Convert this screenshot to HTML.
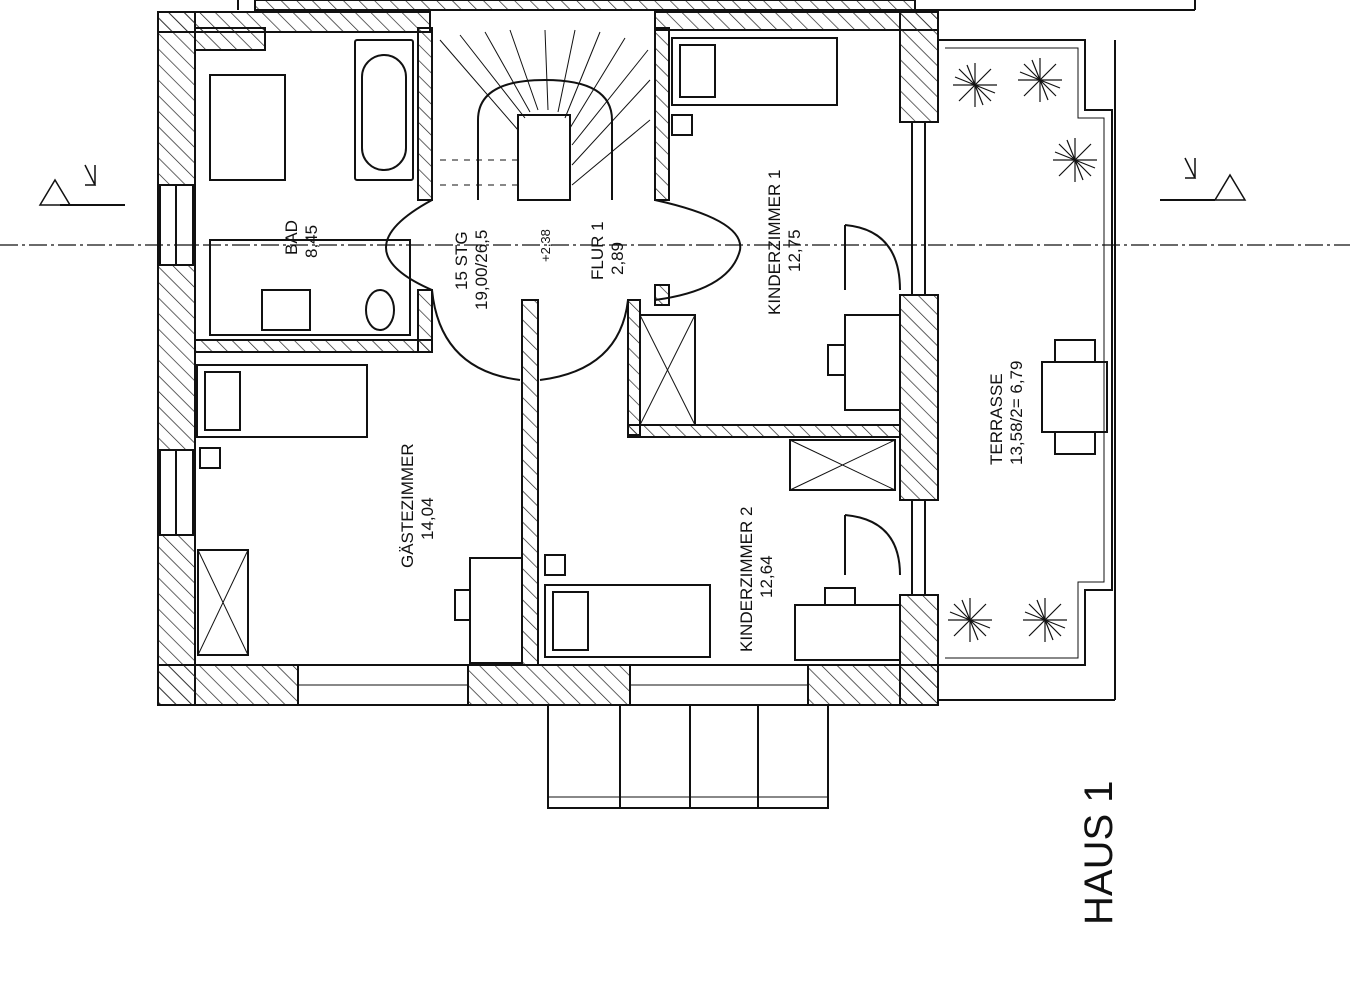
<!DOCTYPE html>
<html><head><meta charset="utf-8"><style>
html,body{margin:0;padding:0;background:#fff;}
svg{display:block;}
text{font-family:"Liberation Sans Narrow","Liberation Sans",sans-serif;fill:#111;}
</style></head><body>
<svg width="1350" height="990" viewBox="0 0 1350 990" xmlns="http://www.w3.org/2000/svg">
<defs>
<pattern id="h" width="11" height="11" patternUnits="userSpaceOnUse" patternTransform="rotate(-45)">
<line x1="0" y1="0" x2="0" y2="11" stroke="#222" stroke-width="1.4"/>
</pattern>
</defs>
<rect width="1350" height="990" fill="#fff"/>
<g stroke="#111" stroke-width="2" fill="none">
<line x1="238" y1="0" x2="238" y2="10"/>
<rect x="255" y="0" width="660" height="10" fill="url(#h)"/>
<line x1="915" y1="10" x2="1195" y2="10"/>
<line x1="1195" y1="0" x2="1195" y2="10"/>
<rect x="158" y="12" width="37" height="693" fill="url(#h)"/>
<rect x="158" y="12" width="272" height="20" fill="url(#h)"/>
<rect x="195" y="28" width="70" height="22" fill="url(#h)"/>
<rect x="655" y="12" width="283" height="18" fill="url(#h)"/>
<rect x="900" y="12" width="38" height="110" fill="url(#h)"/>
<rect x="900" y="295" width="38" height="205" fill="url(#h)"/>
<rect x="900" y="595" width="38" height="110" fill="url(#h)"/>
<rect x="158" y="665" width="140" height="40" fill="url(#h)"/>
<rect x="468" y="665" width="162" height="40" fill="url(#h)"/>
<rect x="808" y="665" width="130" height="40" fill="url(#h)"/>
<line x1="298" y1="665" x2="468" y2="665"/><line x1="298" y1="705" x2="468" y2="705"/>
<line x1="630" y1="665" x2="808" y2="665"/><line x1="630" y1="705" x2="808" y2="705"/>
<line x1="298" y1="685" x2="468" y2="685" stroke-width="1"/>
<line x1="630" y1="685" x2="808" y2="685" stroke-width="1"/>
<rect x="160" y="185" width="33" height="80" fill="#fff"/>
<line x1="176" y1="185" x2="176" y2="265"/>
<rect x="160" y="450" width="33" height="85" fill="#fff"/>
<line x1="176" y1="450" x2="176" y2="535"/>
<line x1="912" y1="122" x2="912" y2="295"/><line x1="925" y1="122" x2="925" y2="295"/>
<line x1="912" y1="500" x2="912" y2="595"/><line x1="925" y1="500" x2="925" y2="595"/>
<rect x="418" y="28" width="14" height="172" fill="url(#h)"/>
<rect x="655" y="28" width="14" height="172" fill="url(#h)"/>
<rect x="195" y="340" width="237" height="12" fill="url(#h)"/>
<rect x="418" y="290" width="14" height="62" fill="url(#h)"/>
<rect x="522" y="300" width="16" height="365" fill="url(#h)"/>
<rect x="628" y="300" width="12" height="135" fill="url(#h)"/>
<rect x="628" y="425" width="272" height="12" fill="url(#h)"/>
<rect x="655" y="285" width="14" height="20" fill="url(#h)"/>
<rect x="210" y="75" width="75" height="105"/>
<rect x="355" y="40" width="58" height="140" rx="2"/>
<rect x="362" y="55" width="44" height="115" rx="22"/>
<rect x="210" y="240" width="200" height="95"/>
<rect x="262" y="290" width="48" height="40"/>
<ellipse cx="380" cy="310" rx="14" ry="20"/>
<path d="M478 200 L478 120 Q478 80 545 80 Q612 80 612 120 L612 200"/>
<rect x="518" y="115" width="52" height="85"/>
<g stroke-width="1">
<line x1="440" y1="40" x2="518" y2="130"/><line x1="460" y1="35" x2="525" y2="118"/>
<line x1="485" y1="32" x2="530" y2="112"/><line x1="510" y1="30" x2="538" y2="110"/>
<line x1="545" y1="30" x2="548" y2="110"/><line x1="575" y1="30" x2="558" y2="112"/>
<line x1="600" y1="32" x2="565" y2="118"/><line x1="625" y1="38" x2="570" y2="128"/>
<line x1="648" y1="50" x2="572" y2="145"/><line x1="650" y1="80" x2="572" y2="165"/>
<line x1="650" y1="120" x2="572" y2="185"/>
<line x1="440" y1="160" x2="518" y2="160" stroke-dasharray="6 6"/>
<line x1="440" y1="185" x2="518" y2="185" stroke-dasharray="6 6"/>
</g>
<path d="M432 200 Q340 250 432 290"/><path d="M655 200 Q745 220 740 250 Q730 290 655 300"/>
<path d="M432 290 Q440 370 520 380"/><path d="M540 380 Q620 370 628 300"/>
<path d="M845 225 Q900 230 900 290"/><line x1="845" y1="225" x2="845" y2="290"/>
<path d="M845 515 Q900 520 900 575"/><line x1="845" y1="515" x2="845" y2="575"/>
<rect x="672" y="38" width="165" height="67"/><rect x="680" y="45" width="35" height="52"/>
<rect x="197" y="365" width="170" height="72"/><rect x="205" y="372" width="35" height="58"/>
<rect x="545" y="585" width="165" height="72"/><rect x="553" y="592" width="35" height="58"/>
<rect x="672" y="115" width="20" height="20"/><rect x="200" y="448" width="20" height="20"/><rect x="545" y="555" width="20" height="20"/>
<rect x="640" y="315" width="55" height="110"/><line x1="640" y1="315" x2="695" y2="425" stroke-width="1"/><line x1="695" y1="315" x2="640" y2="425" stroke-width="1"/>
<rect x="790" y="440" width="105" height="50"/><line x1="790" y1="440" x2="895" y2="490" stroke-width="1"/><line x1="895" y1="440" x2="790" y2="490" stroke-width="1"/>
<rect x="198" y="550" width="50" height="105"/><line x1="198" y1="550" x2="248" y2="655" stroke-width="1"/><line x1="248" y1="550" x2="198" y2="655" stroke-width="1"/>
<rect x="845" y="315" width="55" height="95"/><rect x="828" y="345" width="17" height="30"/>
<rect x="470" y="558" width="52" height="105"/><rect x="455" y="590" width="15" height="30"/>
<rect x="795" y="605" width="105" height="55"/><rect x="825" y="588" width="30" height="17"/>
<path d="M938 40 L1085 40 L1085 110 L1112 110 L1112 590 L1085 590 L1085 665 L938 665"/>
<path d="M945 48 L1078 48 L1078 118 L1104 118 L1104 582 L1078 582 L1078 658 L945 658" stroke-width="1"/>
<line x1="938" y1="700" x2="1115" y2="700"/><line x1="1115" y1="40" x2="1115" y2="700"/>
<rect x="1042" y="362" width="65" height="70"/>
<rect x="1055" y="340" width="40" height="22"/><rect x="1055" y="432" width="40" height="22"/>
<rect x="548" y="705" width="280" height="103"/>
<line x1="620" y1="705" x2="620" y2="808"/><line x1="690" y1="705" x2="690" y2="808"/><line x1="758" y1="705" x2="758" y2="808"/>
<line x1="548" y1="797" x2="828" y2="797" stroke-width="1"/>
<line x1="60" y1="205" x2="125" y2="205"/><path d="M40 205 L55 180 L70 205 Z" stroke-width="1.5"/>
<path d="M85 165 L95 185 L85 185 M95 165 L95 185" stroke-width="1.5"/>
<line x1="1160" y1="200" x2="1215" y2="200"/><path d="M1215 200 L1230 175 L1245 200 Z" stroke-width="1.5"/>
<path d="M1185 158 L1195 178 L1185 178 M1195 158 L1195 178" stroke-width="1.5"/>
<line x1="0" y1="245" x2="1350" y2="245" stroke-width="1.2" stroke-dasharray="18 4 3 4"/>
</g>
<g stroke="#111" stroke-width="1.2">
<g transform="translate(975,85)"><path d="M-22 0 L22 0 M0 -22 L0 22 M-16 -16 L16 16 M-16 16 L16 -16 M-8 -20 L8 20 M-20 -8 L20 8"/></g>
<g transform="translate(1040,80)"><path d="M-22 0 L22 0 M0 -22 L0 22 M-16 -16 L16 16 M-16 16 L16 -16 M-8 -20 L8 20 M-20 -8 L20 8"/></g>
<g transform="translate(1075,160)"><path d="M-22 0 L22 0 M0 -22 L0 22 M-16 -16 L16 16 M-16 16 L16 -16 M-8 -20 L8 20 M-20 -8 L20 8"/></g>
<g transform="translate(970,620)"><path d="M-22 0 L22 0 M0 -22 L0 22 M-16 -16 L16 16 M-16 16 L16 -16 M-8 -20 L8 20 M-20 -8 L20 8"/></g>
<g transform="translate(1045,620)"><path d="M-22 0 L22 0 M0 -22 L0 22 M-16 -16 L16 16 M-16 16 L16 -16 M-8 -20 L8 20 M-20 -8 L20 8"/></g>
</g>
<g font-size="17">
<text transform="translate(297,255) rotate(-90)">BAD</text>
<text transform="translate(317,258) rotate(-90)">8,45</text>
<text transform="translate(467,290) rotate(-90)">15 STG</text>
<text transform="translate(487,310) rotate(-90)">19,00/26,5</text>
<text transform="translate(550,262) rotate(-90)" font-size="13">+2,38</text>
<text transform="translate(603,280) rotate(-90)">FLUR  1</text>
<text transform="translate(623,275) rotate(-90)">2,89</text>
<text transform="translate(780,315) rotate(-90)">KINDERZIMMER  1</text>
<text transform="translate(800,272) rotate(-90)">12,75</text>
<text transform="translate(413,568) rotate(-90)">GÄSTEZIMMER</text>
<text transform="translate(433,540) rotate(-90)">14,04</text>
<text transform="translate(752,652) rotate(-90)">KINDERZIMMER  2</text>
<text transform="translate(772,598) rotate(-90)">12,64</text>
<text transform="translate(1002,465) rotate(-90)">TERRASSE</text>
<text transform="translate(1022,465) rotate(-90)">13,58/2=  6,79</text>
<text transform="translate(1112,925) rotate(-90)" font-size="40">HAUS  1</text>
</g>
</svg>
</body></html>
